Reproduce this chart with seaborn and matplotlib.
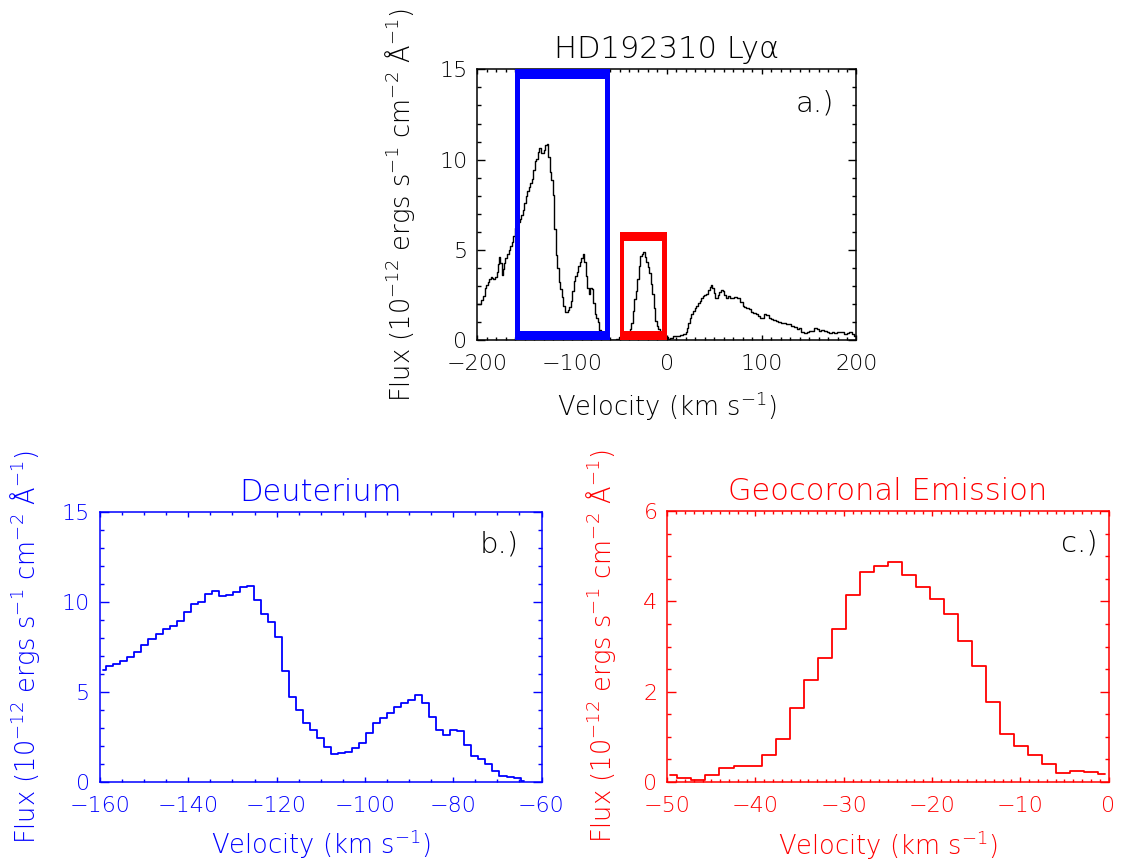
import numpy as np
import pandas as pd
import matplotlib
matplotlib.use("Agg")
import matplotlib.pyplot as plt
from matplotlib.patches import Rectangle
from matplotlib.ticker import MultipleLocator
import seaborn as sns

# ---------------- data ----------------
# Deuterium region (panel b), bin centres in km/s and flux in 1e-12 erg/s/cm2/A
deut_velocity = [
    -159.35, -157.76, -156.17, -154.58, -152.99, -151.40, -149.81, -148.22,
    -146.63, -145.04, -143.45, -141.86, -140.27, -138.68, -137.09, -135.50,
    -133.91, -132.32, -130.73, -129.14, -127.55, -125.96, -124.37, -122.78,
    -121.19, -119.60, -118.01, -116.42, -114.83, -113.24, -111.65, -110.06,
    -108.47, -106.88, -105.29, -103.70, -102.11, -100.52, -98.93, -97.34,
    -95.75, -94.16, -92.57, -90.98, -89.39, -87.80, -86.21, -84.62,
    -83.03, -81.44, -79.85, -78.26, -76.67, -75.08, -73.49, -71.90,
    -70.31, -68.72, -67.13, -65.54, -63.95]
deut_flux = [
    6.19, 6.43, 6.56, 6.69, 6.95, 7.21, 7.61, 7.96,
    8.24, 8.48, 8.68, 8.93, 9.43, 9.91, 10.02, 10.43,
    10.63, 10.35, 10.37, 10.54, 10.83, 10.89, 10.13, 9.34,
    8.86, 8.06, 6.15, 4.71, 3.98, 3.24, 2.85, 2.41,
    1.91, 1.54, 1.59, 1.67, 1.87, 2.17, 2.72, 3.28,
    3.56, 3.80, 4.13, 4.35, 4.54, 4.80, 4.35, 3.58,
    2.87, 2.58, 2.89, 2.83, 2.04, 1.44, 1.24, 1.00,
    0.59, 0.32, 0.28, 0.22, 0.04]

# gap between the two boxes
gap_velocity = [-62.36, -60.77, -59.18, -57.59, -56.00, -54.41, -52.82, -51.23]
gap_flux = [0.03, 0.02, 0.01, 0.01, 0.02, 0.03, 0.05, 0.08]

# Geocoronal emission (panel c)
geo_velocity = [
    -49.64, -48.05, -46.46, -44.87, -43.28, -41.69, -40.10, -38.51,
    -36.92, -35.33, -33.74, -32.15, -30.56, -28.97, -27.38, -25.79,
    -24.20, -22.61, -21.02, -19.43, -17.84, -16.25, -14.66, -13.07,
    -11.48, -9.89, -8.30, -6.71, -5.12, -3.53, -1.94, -0.35]
geo_flux = [
    0.16, 0.09, 0.04, 0.16, 0.32, 0.35, 0.35, 0.60,
    0.96, 1.64, 2.26, 2.75, 3.38, 4.13, 4.64, 4.79,
    4.88, 4.59, 4.32, 4.06, 3.72, 3.13, 2.57, 1.77,
    1.06, 0.80, 0.60, 0.39, 0.21, 0.24, 0.23, 0.17]

# blue wing of the full profile (panel a only)
blue_wing_velocity = [
    -200.0, -197.2, -195.4, -193.6, -191.2, -189.5, -188.0, -186.6, -184.8,
    -183.8, -182.1, -180.3, -178.9, -177.4, -176.4, -175.0, -173.6, -172.6,
    -171.1, -169.7, -167.9, -166.2, -164.4, -162.7, -161.0]
blue_wing_flux = [
    1.99, 2.03, 2.23, 2.47, 2.88, 3.06, 3.24, 3.39, 3.52,
    3.43, 3.38, 3.50, 3.80, 4.20, 4.63, 4.26, 3.61, 3.95,
    4.26, 4.54, 4.76, 5.00, 5.24, 5.46, 5.79]

# red wing of the full profile (panel a only)
red_wing_velocity = [
    1.9, 5.4, 8.2, 12.4, 15.9, 18.8, 20.5, 21.9, 23.6, 25.1, 26.5, 28.6,
    30.0, 32.1, 33.9, 35.7, 37.0, 38.8, 40.5, 42.3, 44.1, 45.8, 47.6, 48.6,
    50.0, 51.1, 52.8, 54.6, 56.3, 58.1, 59.9, 61.6, 63.4, 65.2, 68.7, 72.2,
    75.7, 79.2, 81.0, 82.7, 85.2, 87.3, 89.8, 92.2, 95.0, 97.1, 99.3, 101.4,
    103.8, 106.3, 108.4, 110.9, 113.3, 116.1, 119.0, 121.4, 123.8, 126.7,
    129.5, 131.9, 135.4, 138.3, 140.7, 143.2, 146.0, 148.8, 151.3, 153.8,
    157.3, 159.4, 161.8, 164.3, 167.1, 169.9, 172.4, 174.9, 177.6, 180.5,
    182.9, 185.4, 188.2, 191.0, 193.5, 196.0, 198.1, 199.8]
red_wing_flux = [
    0.07, 0.15, 0.22, 0.24, 0.28, 0.33, 0.48, 0.66, 0.94, 1.22, 1.44, 1.62,
    1.77, 1.91, 2.05, 2.19, 2.32, 2.47, 2.51, 2.56, 2.78, 2.97, 3.06, 2.91,
    2.60, 2.32, 2.32, 2.51, 2.66, 2.78, 2.73, 2.51, 2.36, 2.47, 2.32, 2.40,
    2.36, 2.14, 1.92, 1.86, 1.81, 1.73, 1.58, 1.49, 1.44, 1.36, 1.22, 1.25,
    1.44, 1.40, 1.25, 1.18, 1.12, 1.07, 1.00, 0.94, 0.94, 0.89,
    0.89, 0.81, 0.72, 0.63, 0.66, 0.48, 0.39, 0.48, 0.51, 0.51,
    0.66, 0.63, 0.51, 0.57, 0.51, 0.44, 0.39, 0.44, 0.39, 0.44,
    0.48, 0.44, 0.33, 0.39, 0.44, 0.33, 0.25, 0.33]

# velocity windows marked in panel a: (vmin, vmax, fluxmax)
deut_window = (-160, -60, 15)
geo_window = (-50, 0, 6)

# ---------------- styling ----------------
sns.set_style("ticks")
plt.rcParams['font.family'] = ['DejaVu Sans']
plt.rcParams['font.weight'] = 'light'
plt.rcParams['axes.titleweight'] = 'light'
plt.rcParams['axes.labelweight'] = 'light'
plt.rcParams['mathtext.default'] = 'regular'
plt.rcParams['axes.unicode_minus'] = True

BLUE = '#0000ff'
RED = '#ff0000'
BLACK = '#000000'

TICK_FS = 16
LABEL_FS = 18.5
TITLE_FS = 22
LETTER_FS = 21

ylab = 'Flux (10$^{-12}$ ergs s$^{-1}$ cm$^{-2}$ Å$^{-1}$)'
xlab = 'Velocity (km s$^{-1}$)'

fig = plt.figure(figsize=(11.23, 8.60), dpi=100)
W, H = 1123.0, 860.0


def px_axes(left, top, right, bottom):
    return fig.add_axes([left / W, 1 - bottom / H, (right - left) / W, (bottom - top) / H])


ax_a = px_axes(477.3, 69.3, 856.5, 340.3)
ax_b = px_axes(100.0, 512.0, 541.5, 781.7)
ax_c = px_axes(667.2, 511.0, 1108.5, 782.0)


def style(ax, color, xlim, ylim, xmaj, xmin, ymaj, ymin, xlen, ylen):
    ax.set_xlim(*xlim)
    ax.set_ylim(*ylim)
    ax.xaxis.set_major_locator(MultipleLocator(xmaj))
    ax.xaxis.set_minor_locator(MultipleLocator(xmin))
    ax.yaxis.set_major_locator(MultipleLocator(ymaj))
    ax.yaxis.set_minor_locator(MultipleLocator(ymin))
    ax.tick_params(axis='x', which='major', direction='in', length=xlen, width=1.0,
                   top=True, bottom=True, colors=color, labelsize=TICK_FS, pad=10)
    ax.tick_params(axis='x', which='minor', direction='in', length=xlen / 2, width=1.0,
                   top=True, bottom=True, colors=color)
    ax.tick_params(axis='y', which='major', direction='in', length=ylen, width=1.0,
                   left=True, right=True, colors=color, labelsize=TICK_FS, pad=7)
    ax.tick_params(axis='y', which='minor', direction='in', length=ylen / 2, width=1.0,
                   left=True, right=True, colors=color)
    for sp in ax.spines.values():
        sp.set_color(color)
        sp.set_linewidth(1.1)
        sp.set_visible(True)
    ax.set_xlabel(xlab, fontsize=LABEL_FS, color=color, fontweight='light')
    ax.set_ylabel(ylab, fontsize=LABEL_FS, color=color, fontweight='light')
    ax.grid(False)


# ---------------- panel a ----------------
full_velocity = blue_wing_velocity + deut_velocity + gap_velocity + geo_velocity + red_wing_velocity
full_flux = blue_wing_flux + deut_flux + gap_flux + geo_flux + red_wing_flux
df_full = pd.DataFrame({'velocity': full_velocity, 'flux': full_flux})
sns.lineplot(data=df_full, x='velocity', y='flux', ax=ax_a, color=BLACK, linewidth=1.0,
             drawstyle='steps-mid', estimator=None, sort=False, legend=False)
style(ax_a, BLACK, (-200, 200), (0, 15), 100, 10, 5, 1, 3.9, 5.5)
ax_a.set_title('HD192310 Lyα', fontsize=TITLE_FS, color=BLACK, pad=8, fontweight='light')
ax_a.text(0.89, 0.872, 'a.)', transform=ax_a.transAxes, fontsize=LETTER_FS,
          ha='center', va='center', color=BLACK)
ax_a.yaxis.set_label_coords(-0.158, 0.5)
ax_a.xaxis.set_label_coords(0.5, -0.183)

# windows (frames drawn inside each velocity/flux window)
vbar_px, hbar_px = 4.8, 9.5
ax_w_px = 856.5 - 477.3
ax_h_px = 340.3 - 69.3
dx = vbar_px * 400.0 / ax_w_px
dy = hbar_px * 15.0 / ax_h_px
for (v0, v1, fmax), col in [(deut_window, BLUE), (geo_window, RED)]:
    bars = [
        (v0, 0, dx, fmax),            # left
        (v1 - dx, 0, dx, fmax),       # right
        (v0, 0, v1 - v0, dy),         # bottom
        (v0, fmax - dy, v1 - v0, dy), # top
    ]
    for x0, y0, w, h in bars:
        ax_a.add_patch(Rectangle((x0, y0), w, h, facecolor=col, edgecolor='none',
                                 zorder=4, clip_on=True))

# ---------------- panel b ----------------
df_b = pd.DataFrame({'velocity': deut_velocity, 'flux': deut_flux})
sns.lineplot(data=df_b, x='velocity', y='flux', ax=ax_b, color=BLUE, linewidth=1.3,
             drawstyle='steps-mid', estimator=None, sort=False, legend=False)
style(ax_b, BLUE, (-160, -60), (0, 15), 20, 5, 5, 1, 3.9, 6.3)
ax_b.set_title('Deuterium', fontsize=TITLE_FS, color=BLUE, pad=8, fontweight='light')
ax_b.text(0.904, 0.881, 'b.)', transform=ax_b.transAxes, fontsize=LETTER_FS,
          ha='center', va='center', color=BLACK)
ax_b.yaxis.set_label_coords(-0.131, 0.5)
ax_b.xaxis.set_label_coords(0.5, -0.17)

# ---------------- panel c ----------------
df_c = pd.DataFrame({'velocity': geo_velocity, 'flux': geo_flux})
sns.lineplot(data=df_c, x='velocity', y='flux', ax=ax_c, color=RED, linewidth=1.3,
             drawstyle='steps-mid', estimator=None, sort=False, legend=False)
style(ax_c, RED, (-50, 0), (0, 6), 10, 1, 2, 0.5, 3.9, 6.3)
ax_c.set_title('Geocoronal Emission', fontsize=TITLE_FS, color=RED, pad=8, fontweight='light')
ax_c.text(0.933, 0.881, 'c.)', transform=ax_c.transAxes, fontsize=LETTER_FS,
          ha='center', va='center', color=BLACK)
ax_c.yaxis.set_label_coords(-0.111, 0.5)
ax_c.xaxis.set_label_coords(0.5, -0.17)

fig.savefig('out.png', dpi=100)
